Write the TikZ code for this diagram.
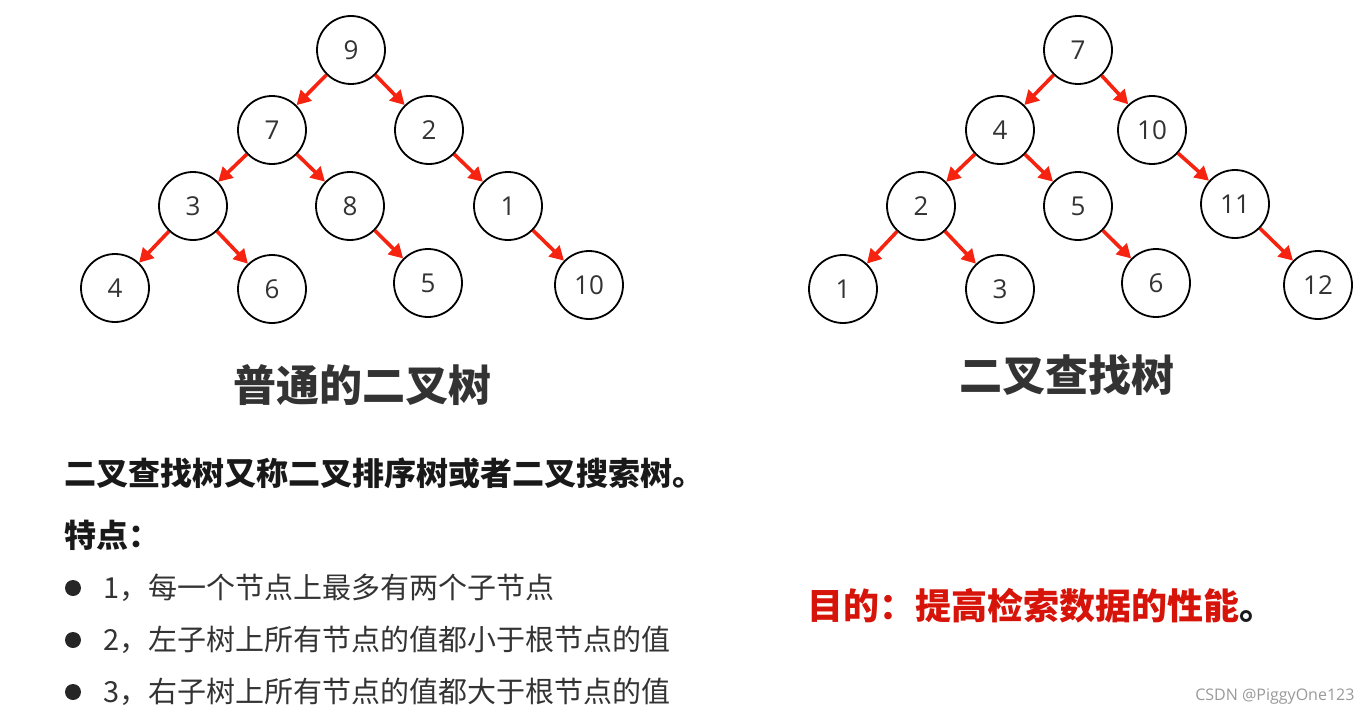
\documentclass[tikz,border=0pt]{standalone}
\usepackage{fontspec}
\setmainfont{Noto Sans CJK SC}
\newfontfamily\numfont{Open Sans}
\usetikzlibrary{arrows.meta}

\definecolor{arrowred}{HTML}{F5230F}
\definecolor{goalred}{HTML}{D7140A}
\definecolor{textgray}{HTML}{333333}

\begin{document}
\begin{tikzpicture}[x=1pt,y=-1pt]

\def\rad{34pt}
\def\numsize{\fontsize{26}{26}\selectfont}

\tikzset{key/.style = {draw, circle, line width=1.8pt, minimum size=2*\rad, inner sep=0pt, text=textgray, font=\numfont\numsize}}
\tikzset{link/.style = {draw=arrowred, line width=3.6pt, -{Triangle[length=14pt,width=15pt]}}}
\tikzset{title/.style = {text=textgray, font=\fontsize{43}{43}\selectfont\bfseries}}
\tikzset{itemtext/.style = {anchor=west, text=textgray, font=\fontsize{29}{29}\selectfont}}
\tikzset{dot/.style = {circle, fill=black!85, minimum size=16pt, inner sep=0pt}}

\useasboundingbox (0,0) rectangle (1371,717);

% left tree
\node[key] (L9)  at (351,50)  {9};
\node[key] (L7)  at (272,130) {7};
\node[key] (L2)  at (429,130) {2};
\node[key] (L3)  at (193,206) {3};
\node[key] (L8)  at (350,206) {8};
\node[key] (L1)  at (508,206) {1};
\node[key] (L4)  at (115,288) {4};
\node[key] (L6)  at (272,289) {6};
\node[key] (L5)  at (428,283) {5};
\node[key] (L10) at (589,285) {10};

\draw[link] (L9) -- (L7);
\draw[link] (L9) -- (L2);
\draw[link] (L7) -- (L3);
\draw[link] (L7) -- (L8);
\draw[link] (L2) -- (L1);
\draw[link] (L3) -- (L4);
\draw[link] (L3) -- (L6);
\draw[link] (L8) -- (L5);
\draw[link] (L1) -- (L10);

% right tree
\node[key] (R7)  at (1078,50)  {7};
\node[key] (R4)  at (1000,130) {4};
\node[key] (R10) at (1152,130) {10};
\node[key] (R2)  at (921,206)  {2};
\node[key] (R5)  at (1078,206) {5};
\node[key] (R11) at (1235,204) {11};
\node[key] (R1)  at (843,289)  {1};
\node[key] (R3)  at (1000,289) {3};
\node[key] (R6)  at (1156,283) {6};
\node[key] (R12) at (1318,285) {12};

\draw[link] (R7) -- (R4);
\draw[link] (R7) -- (R10);
\draw[link] (R4) -- (R2);
\draw[link] (R4) -- (R5);
\draw[link] (R10) -- (R11);
\draw[link] (R2) -- (R1);
\draw[link] (R2) -- (R3);
\draw[link] (R5) -- (R6);
\draw[link] (R11) -- (R12);

% titles
\node[title] (ltitle) at (362,385) {普通的二叉树};
\node[title] (rtitle) at (1067,375) {二叉查找树};

% text
\node[anchor=west, text=black!90, font=\fontsize{32}{32}\selectfont\bfseries] (intro) at (61,473) {二叉查找树又称二叉排序树或者二叉搜索树。};
\node[anchor=west, text=black!90, font=\fontsize{32}{32}\selectfont\bfseries] (feat) at (61,535) {特点：};

\node[dot] (b1) at (73,588) {};
\node[dot] (b2) at (73,640) {};
\node[dot] (b3) at (73,692) {};
\node[itemtext] (t1) at (100,588) {1，每一个节点上最多有两个子节点};
\node[itemtext] (t2) at (100,640) {2，左子树上所有节点的值都小于根节点的值};
\node[itemtext] (t3) at (100,692) {3，右子树上所有节点的值都大于根节点的值};

\node[anchor=west, text=black!90, font=\fontsize{36}{36}\selectfont\bfseries] (goal) at (804,606) {\textcolor{goalred}{目的：提高检索数据的性能}。};

\node[anchor=east, text=black!40, font=\numfont\fontsize{16}{16}\selectfont] (mark) at (1358,697) {CSDN @PiggyOne123};

\end{tikzpicture}
\end{document}
